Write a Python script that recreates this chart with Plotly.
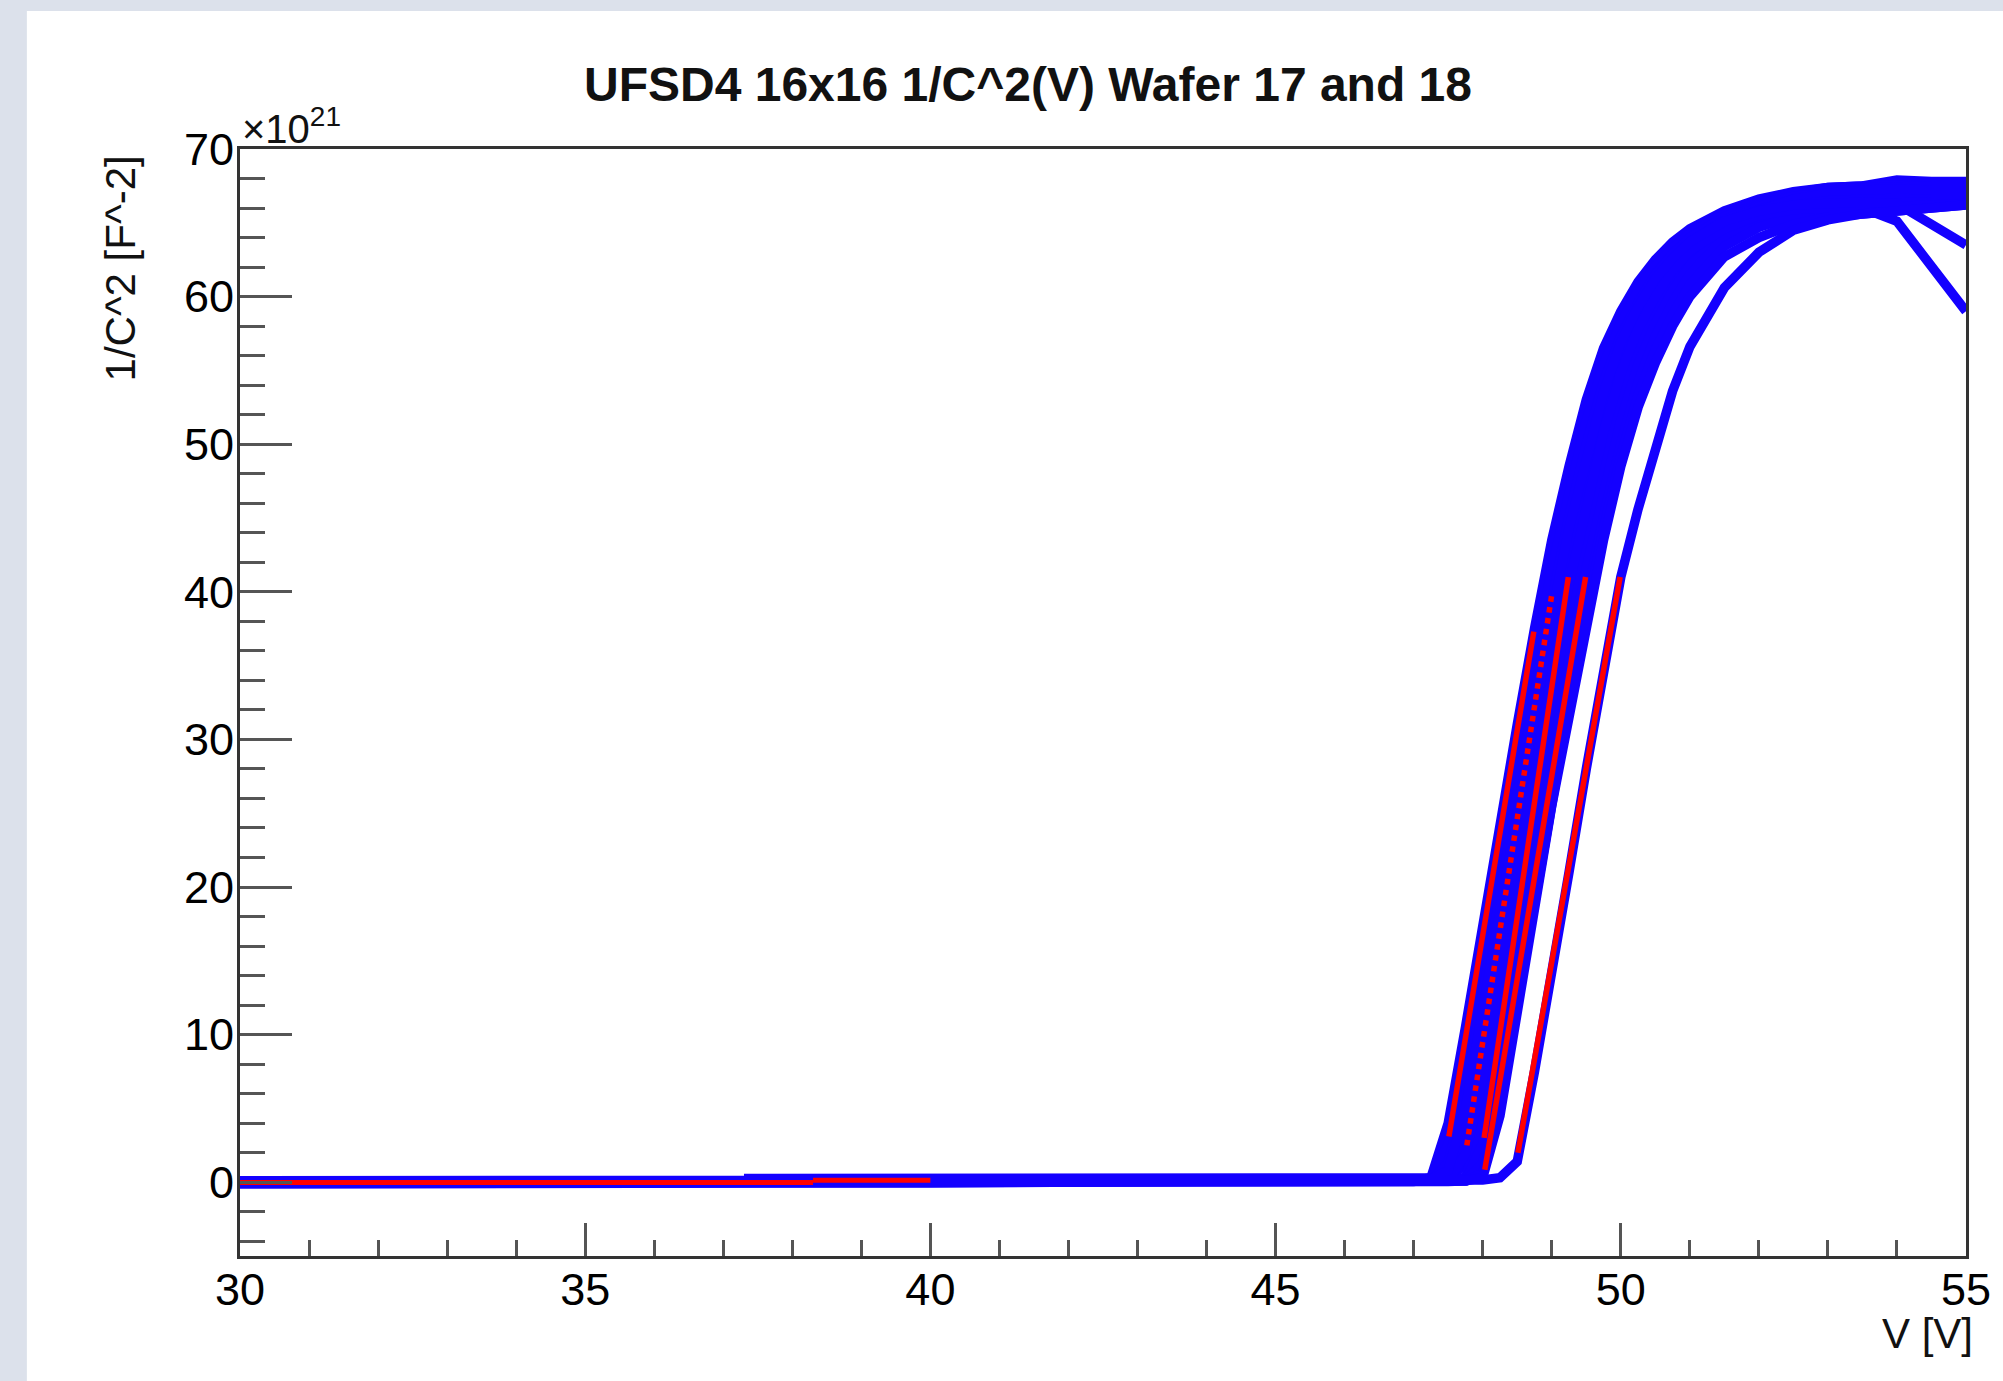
import plotly.graph_objects as go

# ---- bias voltage grid (V) shared by all measured pads ----
V_BIAS = [30, 37.3, 40, 47, 47.25, 47.5, 47.75, 48, 48.25, 48.5, 48.75, 49, 49.25,
          49.5, 49.75, 50, 50.25, 50.5, 50.75, 51, 51.5, 52, 52.5, 53, 53.5, 54, 54.5, 55]

# ---- 1/C^2 values (x10^21 F^-2), one list per pad curve ----
pad_c1 = [0.0, 0.0, 0.05, 0.1, 0.3, 4.0, 10.5, 17.5, 24.5, 31.0, 37.5, 43.5, 48.5, 53.0,
          56.5, 59.0, 61.0, 62.5, 63.7, 64.6, 65.8, 66.6, 67.1, 67.4, 67.5, 67.9, 67.8, 67.8]
pad_c2 = [-0.1, -0.1, -0.05, 0.15, 0.2, 2.6, 8.4, 15.3, 22.3, 29.0, 35.5, 41.6, 46.9, 51.6,
          55.4, 58.2, 60.4, 62.1, 63.3, 64.3, 65.6, 66.5, 67.0, 67.4, 67.5, 67.6, 67.6, 67.6]
pad_c3 = [0.1, 0.1, 0.1, 0.1, 0.15, 1.3, 6.0, 12.7, 19.7, 26.6, 33.1, 39.4, 45.1, 50.0,
          54.2, 57.3, 59.6, 61.5, 62.9, 64.0, 65.4, 66.3, 67.0, 67.2, 67.3, 67.2, 67.3, 67.3]
pad_c4 = [0.0, 0.0, 0.0, 0.1, 0.1, 0.3, 4.0, 10.5, 17.5, 24.5, 31.0, 37.5, 43.5, 48.5,
          53.0, 56.5, 59.0, 61.0, 62.5, 63.7, 65.2, 66.2, 66.9, 67.3, 67.4, 67.5, 67.5, 67.5]
pad_c5 = [0.05, 0.05, 0.1, 0.1, 0.1, 0.15, 2.6, 8.4, 15.3, 22.3, 29.0, 35.5, 41.6, 46.9,
          51.6, 55.4, 58.2, 60.4, 62.1, 63.3, 65.0, 66.1, 66.8, 67.0, 67.0, 67.1, 67.0, 67.0]
pad_c6 = [-0.05, -0.05, 0.0, 0.05, 0.1, 0.1, 1.3, 6.0, 12.7, 19.7, 26.6, 33.1, 39.4, 45.1,
          50.0, 54.2, 57.3, 59.6, 61.5, 62.9, 64.8, 65.9, 66.6, 66.8, 66.8, 66.9, 66.8, 66.8]
pad_c7 = [None, 0.25, 0.25, 0.2, 0.2, 0.2, 0.3, 4.0, 10.5, 17.5, 24.5, 31.0, 37.5, 43.5,
          48.5, 53.0, 56.5, 59.0, 61.0, 62.5, 64.6, 65.8, 66.6, 67.0, 67.2, 67.3, 67.2, 67.2]
pad_c8 = [0.0, 0.0, 0.0, 0.05, 0.05, 0.1, 0.1, 2.6, 8.4, 15.3, 22.3, 29.0, 35.5, 41.6,
          46.9, 51.6, 55.4, 58.2, 60.4, 62.1, 64.3, 65.6, 66.2, 66.5, 66.6, 66.6, 66.6, 66.6]
pad_c9 = [-0.1, -0.1, -0.05, 0.0, 0.0, 0.05, 0.1, 1.3, 6.0, 12.7, 19.7, 26.6, 33.1, 39.4,
          45.1, 50.0, 54.2, 57.3, 59.6, 61.5, 64.0, 65.3, 65.9, 66.2, 66.3, 66.4, 66.4, 66.4]
pad_c11 = [0.0, 0.0, 0.0, 0.0, 0.05, 0.05, 0.1, 0.6, 5.2, 12.1, 19.1, 26.0, 32.3, 38.5,
           44.3, 49.2, 53.3, 56.4, 58.8, 60.8, 63.4, 64.7, 65.4, 65.8, 66.0, 66.1, 66.2, 66.3]
pad_c10 = [0.05, 0.05, 0.05, 0.05, 0.05, 0.1, 0.1, 0.3, 4.5, 11.5, 18.5, 25.5, 31.5, 37.5,
           43.5, 48.5, 52.5, 55.5, 58.0, 60.0, 62.7, 64.0, 64.9, 65.4, 65.6, 65.9, 66.1, 66.2]
pad_a = [0.1, 0.1, 0.1, 0.1, 0.1, 0.1, 1.9, 7.0, 14.0, 21.0, 27.8, 34.3, 40.5, 46.0,
         50.8, 54.8, 57.8, 60.0, 61.8, 63.1, 64.6, 65.5, 65.9, 66.0, 66.0, 65.1, 62.0, 59.0]
pad_b = [-0.05, -0.05, 0.0, 0.05, 0.2, 0.8, 5.0, 11.6, 18.6, 25.6, 32.0, 38.4, 44.3, 49.2,
         53.5, 56.9, 59.3, 61.2, 62.6, 63.7, 65.1, 65.8, 66.2, 66.3, 66.4, 66.3, 64.9, 63.5]
pad_s = [0.0, 0.05, 0.1, 0.1, 0.1, 0.1, 0.1, 0.15, 0.3, 1.4, 7.5, 14.0, 21.0, 28.0,
         34.7, 41.0, 45.6, 49.8, 53.6, 56.6, 60.6, 63.0, 64.5, 65.2, 65.6, 65.8, 66.0, 66.2]

PAD_CURVES = [pad_c1, pad_c2, pad_c3, pad_c4, pad_c5, pad_c6, pad_c7, pad_c8,
              pad_c9, pad_c11, pad_c10, pad_a, pad_b, pad_s]

# ---- linear fits (red) on the rising edge ----
FIT_V_START = [47.51, 47.77, 48.02, 48.03, 48.51]
FIT_V_END = [48.74, 49.0, 49.24, 49.49, 49.99]
FIT_Y_START = [3.1, 2.5, 3.0, 0.84, 2.0]
FIT_Y_END = [37.3, 39.8, 41.0, 41.0, 41.0]
FIT_DOTTED = [False, True, False, False, False]

# ---- linear fits (red) on the flat part ----
FLAT_V_START = [30, 38.3]
FLAT_V_END = [38.3, 40]
FLAT_Y = [-0.02, 0.14]

TITLE = "UFSD4 16x16 1/C^2(V) Wafer 17 and 18"
X_TITLE = "V [V]"
Y_TITLE = "1/C^2 [F^-2]"

BLUE = "#1400ff"
RED = "#ff0000"
FONT = "Liberation Sans, Arial, Helvetica, sans-serif"

fig = go.Figure()
for ys in PAD_CURVES:
    fig.add_trace(go.Scatter(x=V_BIAS, y=ys, mode="lines",
                             line=dict(color=BLUE, width=9.5), connectgaps=False,
                             hoverinfo="skip"))
for x0, x1, yv in zip(FLAT_V_START, FLAT_V_END, FLAT_Y):
    fig.add_trace(go.Scatter(x=[x0, x1], y=[yv, yv], mode="lines",
                             line=dict(color=RED, width=5), hoverinfo="skip"))
for x0, x1, y0, y1, dot in zip(FIT_V_START, FIT_V_END, FIT_Y_START, FIT_Y_END, FIT_DOTTED):
    fig.add_trace(go.Scatter(x=[x0, x1], y=[y0, y1], mode="lines",
                             line=dict(color=RED, width=5.5, dash="dot" if dot else "solid"),
                             hoverinfo="skip"))

W, H = 2003, 1381
L, R, T, B = 240, 30, 149, 125
PW, PH = W - L - R, H - T - B


def px(xp):
    return (xp - L) / PW


def py(yp):
    return (H - B - yp) / PH


axis_common = dict(
    showline=True, linecolor="#333333", linewidth=3, mirror=True,
    showgrid=False, zeroline=False, ticks="inside", tickcolor="#555555",
    tickwidth=2.5, tickfont=dict(family=FONT, size=45, color="#000000"),
)

fig.update_layout(
    width=W, height=H,
    margin=dict(l=L, r=R, t=T, b=B),
    paper_bgcolor="white", plot_bgcolor="white",
    showlegend=False,
    title=dict(text="<b>" + TITLE + "</b>", x=1028 / W, y=1 - 84 / H,
               xanchor="center", yanchor="middle",
               font=dict(family=FONT, size=48, color="#111111")),
    xaxis=dict(range=[30, 55], tickmode="linear", tick0=30, dtick=5, ticklen=33,
               ticklabelstandoff=-8,
               minor=dict(dtick=1, ticks="inside", ticklen=16, tickwidth=2.5,
                          tickcolor="#555555", showgrid=False),
               **axis_common),
    yaxis=dict(range=[-5, 70], tickmode="linear", tick0=0, dtick=10, ticklen=52,
               ticklabelstandoff=-6,
               minor=dict(dtick=2, ticks="inside", ticklen=25, tickwidth=2.5,
                          tickcolor="#555555", showgrid=False),
               **axis_common),
    shapes=[
        dict(type="rect", xref="paper", yref="paper", x0=-0.3, x1=px(26), y0=-0.3, y1=1.3,
             fillcolor="#dce1eb", line=dict(width=0), layer="below"),
        dict(type="rect", xref="paper", yref="paper", x0=-0.3, x1=1.2, y0=py(11), y1=1.3,
             fillcolor="#dce1eb", line=dict(width=0), layer="below"),
    ],
    annotations=[
        dict(text=Y_TITLE, xref="paper", yref="paper", x=px(121), y=py(153),
             xanchor="center", yanchor="top", textangle=-90, showarrow=False,
             font=dict(family=FONT, size=42, color="#111111")),
        dict(text=X_TITLE, xref="paper", yref="paper", x=px(1982), y=py(1333),
             xanchor="right", yanchor="middle", showarrow=False,
             font=dict(family=FONT, size=42, color="#111111")),
        dict(text="\u00d710<sup>21</sup>", xref="paper", yref="paper", x=px(240),
             y=py(153), xanchor="left", yanchor="bottom", showarrow=False,
             font=dict(family=FONT, size=40, color="#111111")),
    ],
)

fig.write_html("out.html")
